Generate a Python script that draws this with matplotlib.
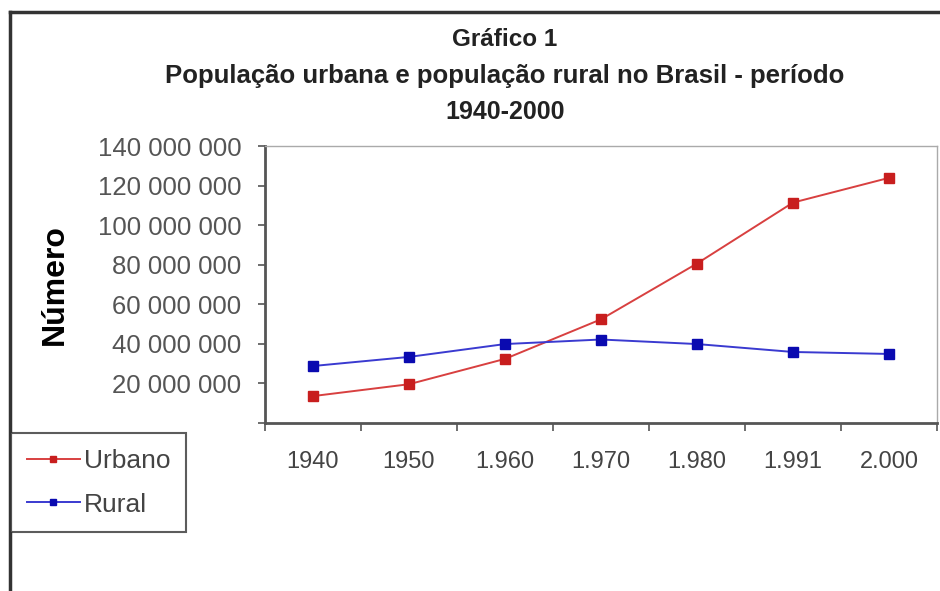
import matplotlib.pyplot as plt
from matplotlib.lines import Line2D

plt.rcParams['font.family'] = ['Liberation Sans', 'DejaVu Sans']

anos = ["1940", "1950", "1.960", "1.970", "1.980", "1.991", "2.000"]
urbano = [13_600_000, 19_600_000, 32_400_000, 52_400_000, 80_600_000, 111_400_000, 123_900_000]
rural = [28_800_000, 33_400_000, 39_900_000, 42_200_000, 39_900_000, 35_900_000, 34_900_000]
y_ticks = [0, 20_000_000, 40_000_000, 60_000_000, 80_000_000, 100_000_000, 120_000_000, 140_000_000]

fig = plt.figure(figsize=(9.4, 5.91), dpi=100)
ax = fig.add_axes([265/940, 1 - 423/591, 672/940, 277/591])

x = range(len(anos))
ax.plot(x, urbano, color="#d84040", lw=1.4, marker="s", ms=7,
        mfc="#c81e1e", mec="#c81e1e", label="Urbano")
ax.plot(x, rural, color="#3a3ad0", lw=1.4, marker="s", ms=7,
        mfc="#0a0ab0", mec="#0a0ab0", label="Rural")

ax.set_xlim(-0.5, len(anos) - 0.5)
ax.set_ylim(0, 140_000_000)

# ticks between categories, labels under the points
ax.set_xticks([i - 0.5 for i in range(len(anos) + 1)])
ax.set_xticklabels([])
ax.set_xticks(list(x), minor=True)
ax.set_xticklabels(anos, minor=True, fontsize=17, color="#444444")
ax.tick_params(axis="x", which="major", direction="out", length=6, width=1.2, colors="#555555")
ax.tick_params(axis="x", which="minor", length=0, pad=20)

ax.set_yticks(y_ticks)
ax.set_yticklabels([f"{v:,}".replace(",", " ") if v else "" for v in y_ticks],
                   fontsize=18.5, color="#555555")
ax.tick_params(axis="y", direction="out", length=5, width=1.2, colors="#555555", pad=12)
for lbl in ax.get_yticklabels():
    lbl.set_color("#555555")

for s in ["left", "bottom"]:
    ax.spines[s].set_color("#555555")
    ax.spines[s].set_linewidth(2)
for s in ["top", "right"]:
    ax.spines[s].set_color("#aaaaaa")
    ax.spines[s].set_linewidth(1)

fig.text(55/940, 1 - 285/591, "Número", rotation=90, fontsize=23, fontweight="bold",
         ha="center", va="center")

fig.text(505/940, 1 - 40/591, "Gráfico 1", fontsize=17.5, fontweight="bold",
         ha="center", va="center", color="#222222")
fig.text(505/940, 1 - 76/591, "População urbana e população rural no Brasil - período",
         fontsize=18.5, fontweight="bold", ha="center", va="center", color="#222222")
fig.text(505/940, 1 - 112/591, "1940-2000", fontsize=18, fontweight="bold",
         ha="center", va="center", color="#222222")

handles = [
    Line2D([], [], color="#d84040", lw=1.4, marker="s", ms=4, mfc="#c81e1e", mec="#c81e1e"),
    Line2D([], [], color="#3a3ad0", lw=1.4, marker="s", ms=4, mfc="#0a0ab0", mec="#0a0ab0"),
]
leg = fig.legend(handles, ["Urbano", "Rural"], loc="upper left",
                 bbox_to_anchor=(11/940, 1 - 433/591), fontsize=19, frameon=True,
                 fancybox=False, edgecolor="#333333", handlelength=2.0,
                 handletextpad=0.15, borderpad=0.6, labelspacing=0.75, borderaxespad=0)
leg.get_frame().set_linewidth(1.5)
for t in leg.get_texts():
    t.set_color("#444444")

# outer border lines (top and left)
fig.add_artist(Line2D([10/940, 1], [1 - 12/591, 1 - 12/591], color="#333333", lw=2.5))
fig.add_artist(Line2D([10/940, 10/940], [0, 1 - 12/591], color="#333333", lw=2.5))

fig.savefig("out.png", dpi=100)
